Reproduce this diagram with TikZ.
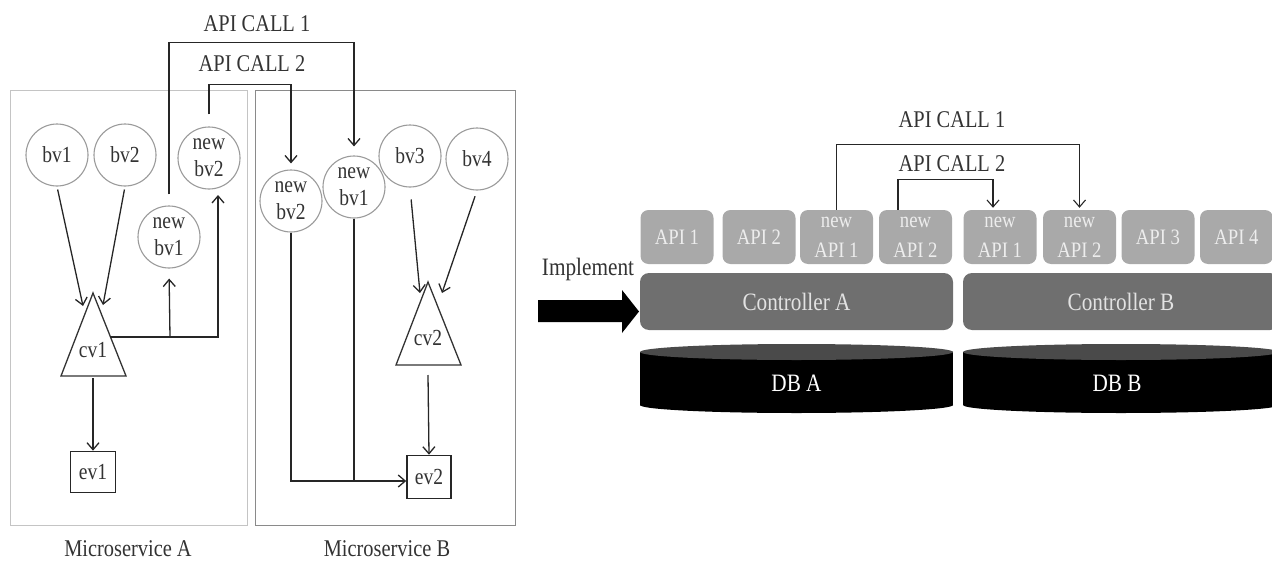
\documentclass[tikz,border=0pt]{standalone}
\usepackage{fontspec}
\setmainfont{Liberation Serif}[FakeStretch=0.85]
\usetikzlibrary{arrows.meta,calc}

\definecolor{inkcol}{HTML}{262626}
\definecolor{txtcol}{HTML}{333333}
\definecolor{circcol}{HTML}{9A9A9A}
\definecolor{boxAcol}{HTML}{C4C4C4}
\definecolor{boxBcol}{HTML}{8A8A8A}
\definecolor{apifill}{HTML}{A9A9A9}
\definecolor{apitext}{HTML}{EDEDED}
\definecolor{ctrlfill}{HTML}{6F6F6F}
\definecolor{ctrltext}{HTML}{E2E2E2}
\definecolor{dbtop}{HTML}{4A4A4A}

\begin{document}
\begin{tikzpicture}[x=1pt,y=-1pt,
  every node/.style={text=txtcol},
  lbl/.style={font=\fontsize{24}{26}\selectfont},
  bubble/.style={circle, draw=circcol, line width=1.1pt, minimum size=62pt,
    inner sep=0pt, align=center, font=\fontsize{23}{27}\selectfont},
  service/.style={draw=#1, line width=1.4pt, anchor=north west, inner sep=0pt},
  endbox/.style={draw=inkcol, line width=1.6pt, inner sep=0pt,
    font=\fontsize{23}{25}\selectfont},
  tri/.style={draw=txtcol, line width=1.3pt, fill=white},
  arr/.style={-{Straight Barb[length=7pt,width=12pt]}, line width=1.3pt, draw=inkcol},
  link/.style={line width=1.3pt, draw=inkcol},
  apibox/.style={rounded corners=8pt, fill=apifill, minimum width=73pt,
    minimum height=54pt, inner sep=0pt, align=center, text=apitext,
    font=\fontsize{22}{30}\selectfont},
  ctrl/.style={rounded corners=9pt, fill=ctrlfill, minimum height=57pt,
    inner sep=0pt, text=ctrltext, font=\fontsize{25}{27}\selectfont},
  dbtext/.style={text=white, font=\fontsize{25}{27}\selectfont}
]
\useasboundingbox (0,0) rectangle (1272,562);

% ---------- microservice frames ----------
\node[service=boxAcol, minimum width=237pt, minimum height=435pt] (msa) at (10,90) {};
\node[service=boxBcol, minimum width=260pt, minimum height=435pt] (msb) at (255,90) {};
\node[lbl] (msalbl) at (128,549) {Microservice A};
\node[lbl] (msblbl) at (387,549) {Microservice B};

% ---------- bubbles ----------
\node[bubble] (bv1)   at (57,155)  {bv1};
\node[bubble] (bv2)   at (125,155) {bv2};
\node[bubble] (nbv2a) at (209,158) {new\\bv2};
\node[bubble] (nbv1a) at (169,237) {new\\bv1};
\node[bubble] (nbv2b) at (291,201) {new\\bv2};
\node[bubble] (nbv1b) at (354,187) {new\\bv1};
\node[bubble] (bv3)   at (410,156) {bv3};
\node[bubble] (bv4)   at (477,159) {bv4};

% ---------- combining triangles ----------
\draw[tri] (93,293) -- (126,376) -- (61,376) -- cycle;
\node[lbl, font=\fontsize{23}{25}\selectfont] (cv1) at (93,350) {cv1};
\draw[tri] (428,282) -- (461,365) -- (396,365) -- cycle;
\node[lbl, font=\fontsize{23}{25}\selectfont] (cv2) at (428,338) {cv2};

\coordinate (cv1inL)  at (83,306);
\coordinate (cv1inR)  at (103,305);
\coordinate (cv1out)  at (110,337);
\coordinate (cv1fork) at (170,337);
\coordinate (cv1base) at (93,378);
\coordinate (cv2inL)  at (420,293);
\coordinate (cv2inR)  at (442,293);
\coordinate (cv2base) at (428,375);
\coordinate (nbv2ain) at (218,195);

% ---------- end boxes ----------
\node[endbox, minimum width=45pt, minimum height=41pt] (ev1) at (93,472) {ev1};
\node[endbox, minimum width=44pt, minimum height=43pt] (ev2) at (429,477) {ev2};

% ---------- connectors inside the services ----------
\draw[arr, shorten <=3pt] (bv1.south) -- (cv1inL);
\draw[arr, shorten <=3pt] (bv2.south) -- (cv1inR);
\draw[arr, shorten <=12pt] (bv3.south) -- (cv2inL);
\draw[arr, shorten <=6pt] (bv4.south) -- (cv2inR);
\draw[arr] (cv1base) -- (ev1.north);
\draw[arr] (cv2base) -- (ev2.north);
\draw[arr] (cv1out) -| (nbv2ain);
\draw[arr, shorten >=10pt] (cv1fork) -- (nbv1a.south);
\draw[arr] (nbv2b.south) |- ($(ev2.west)+(0,4)$);
\draw[link] (nbv1b.south) -- (nbv1b.south |- {$(ev2.west)+(0,4)$});

% ---------- API calls between services ----------
\draw[arr, shorten <=11pt, shorten >=9pt] (nbv1a.north) -- ++(0,-163) -| (nbv1b.north);
\draw[arr, shorten <=12pt, shorten >=6pt] (nbv2a.north) -- ++(0,-42) -| (nbv2b.north);
\node[lbl] (call1L) at (257,24) {API CALL 1};
\node[lbl] (call2L) at (252,64) {API CALL 2};

% ---------- implementation view ----------
\node[lbl, font=\fontsize{25}{27}\selectfont] (impl) at (588,269) {Implement};
\fill[black] (538,300) -- (622,300) -- (622,290) -- (639,311.5) -- (622,333)
  -- (622,322) -- (538,322) -- cycle;

\node[apibox] (api1)   at (677,237)    {API 1};
\node[apibox] (api2)   at (759,237)    {API 2};
\node[apibox] (napiA1) at (836.5,237)  {new\\API 1};
\node[apibox] (napiA2) at (915.5,237)  {new\\API 2};
\node[apibox] (napiB1) at (1000,237)   {new\\API 1};
\node[apibox] (napiB2) at (1079.5,237) {new\\API 2};
\node[apibox] (api3)   at (1158,237)   {API 3};
\node[apibox] (api4)   at (1236.5,237) {API 4};

\node[ctrl, minimum width=313pt] (ctrlA) at (796.5,301.5) {Controller A};
\node[ctrl, minimum width=316pt] (ctrlB) at (1121,301.5)  {Controller B};

% databases as flat cylinders
\fill[black] (640,352) rectangle (953,405);
\fill[black] (796.5,405) ellipse [x radius=156.5pt, y radius=8pt];
\fill[dbtop] (796.5,352) ellipse [x radius=156.5pt, y radius=8pt];
\node[dbtext] (dbA) at (796.5,383) {DB A};

\fill[black] (963,352) rectangle (1279,405);
\fill[black] (1121,405) ellipse [x radius=158pt, y radius=8pt];
\fill[dbtop] (1121,352) ellipse [x radius=158pt, y radius=8pt];
\node[dbtext] (dbB) at (1117,383) {DB B};

\draw[arr, line width=1.1pt, shorten >=2pt] (napiA1.north) -- ++(0,-65) -| (napiB2.north);
\draw[arr, line width=1.1pt, shorten >=2pt] ($(napiA2.north)+(-17.5,0)$) -- ++(0,-30)
  -| ($(napiB1.north)+(-7,0)$);
\node[lbl] (call1R) at (952,120) {API CALL 1};
\node[lbl] (call2R) at (952,164) {API CALL 2};
\end{tikzpicture}
\end{document}
